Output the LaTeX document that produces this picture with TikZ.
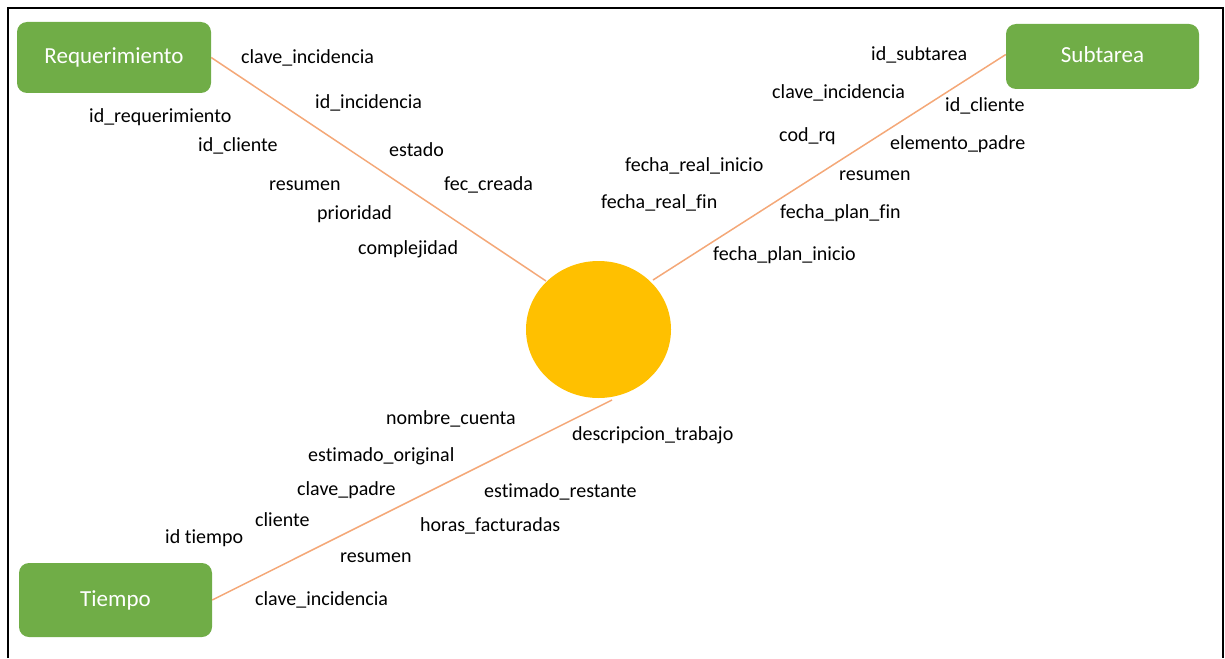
\documentclass[tikz,border=0pt]{standalone}
\usepackage{fontspec}
\setmainfont{Carlito}[Ligatures=NoCommon]
\usetikzlibrary{shapes.geometric}
\definecolor{boxgreen}{RGB}{112,173,71}
\definecolor{hubyellow}{RGB}{255,192,0}
\definecolor{linkorange}{RGB}{244,168,120}
\begin{document}
\begin{tikzpicture}[x=1pt,y=-1pt,
  entity/.style={draw=none, fill=boxgreen, rounded corners=10pt, text=white,
    font=\fontsize{23}{27}\selectfont, inner sep=0, minimum width=194pt,
    text height=16pt, text depth=3pt},
  attr/.style={anchor=west, inner sep=0, text height=16pt, text depth=2pt,
    font=\fontsize{20}{24}\selectfont},
  link/.style={draw=linkorange, line width=1.5pt}]
\useasboundingbox (0,0) rectangle (1225,658);
% outer frame
\draw[line width=2.5pt, black] (8,658) -- (8,8) -- (1223,8) -- (1223,658);

% entities
\node[entity, minimum height=71pt] (req) at (114,57.5) {Requerimiento};
\node[entity, minimum height=65pt, minimum width=193pt] (sub) at (1102.5,56.5) {Subtarea};
\node[entity, minimum height=74pt, minimum width=193pt] (tie) at (115.5,600) {Tiempo};

% central fact
\node[ellipse, fill=hubyellow, minimum width=145pt, minimum height=137pt, inner sep=0] (hub) at (598.5,329.5) {};

% connector ends near the hub
\coordinate (reqEnd) at (546,281);
\coordinate (subEnd) at (653,280);
\coordinate (tieEnd) at (612,400);
\draw[link] (req.east) -- (reqEnd);
\draw[link] ([yshift=2pt]sub.west) -- (subEnd);
\draw[link] (tie.east) -- (tieEnd);

% Requerimiento attributes
\node[attr] (r1) at (241,57) {clave\_incidencia};
\node[attr] (r2) at (315,102) {id\_incidencia};
\node[attr] (r3) at (89,115) {id\_requerimiento};
\node[attr] (r4) at (198,144) {id\_cliente};
\node[attr] (r5) at (389,150) {estado};
\node[attr] (r6) at (444,183) {fec\_creada};
\node[attr] (r7) at (269,183) {resumen};
\node[attr] (r8) at (317,212) {prioridad};
\node[attr] (r9) at (358,247) {complejidad};

% Subtarea attributes
\node[attr] (s1) at (871,54) {id\_subtarea};
\node[attr] (s2) at (772,92) {clave\_incidencia};
\node[attr] (s3) at (945,104) {id\_cliente};
\node[attr] (s4) at (779,135) {cod\_rq};
\node[attr] (s5) at (890,142) {elemento\_padre};
\node[attr] (s6) at (625,164) {fecha\_real\_inicio};
\node[attr] (s7) at (839,173) {resumen};
\node[attr] (s8) at (601,201) {fecha\_real\_fin};
\node[attr] (s9) at (780,211) {fecha\_plan\_fin};
\node[attr] (s10) at (713,253) {fecha\_plan\_inicio};

% Tiempo attributes
\node[attr] (t1) at (386,417) {nombre\_cuenta};
\node[attr] (t2) at (572,433) {descripcion\_trabajo};
\node[attr] (t3) at (308,454) {estimado\_original};
\node[attr] (t4) at (297,488) {clave\_padre};
\node[attr] (t5) at (484,490) {estimado\_restante};
\node[attr] (t6) at (255,519) {cliente};
\node[attr] (t7) at (165,536) {id tiempo};
\node[attr] (t8) at (420,524) {horas\_facturadas};
\node[attr] (t9) at (340,555) {resumen};
\node[attr] (t10) at (255,598) {clave\_incidencia};
\end{tikzpicture}
\end{document}
